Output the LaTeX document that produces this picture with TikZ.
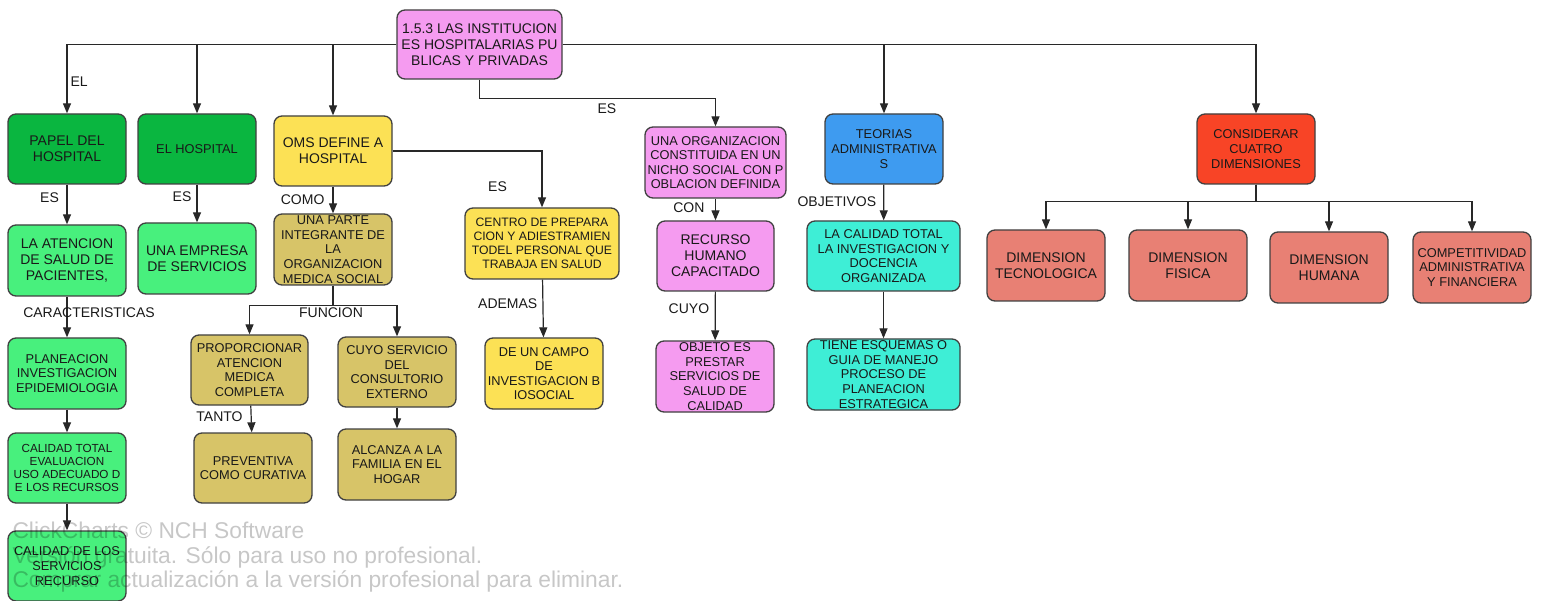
\documentclass[tikz,border=0pt]{standalone}
\usepackage{fontspec}
\setmainfont{Liberation Sans}
\usetikzlibrary{arrows.meta}
\definecolor{cpink}{RGB}{245,155,240}
\definecolor{cdgreen}{RGB}{10,182,64}
\definecolor{clgreen}{RGB}{72,240,125}
\definecolor{cyellow}{RGB}{252,225,85}
\definecolor{ckhaki}{RGB}{215,196,104}
\definecolor{cblue}{RGB}{62,155,240}
\definecolor{cturq}{RGB}{62,238,214}
\definecolor{cred}{RGB}{248,68,38}
\definecolor{csalmon}{RGB}{232,128,116}
\definecolor{cborder}{RGB}{64,64,64}
\definecolor{cline}{RGB}{40,40,40}

\begin{document}
\begin{tikzpicture}[x=1pt, y=-1pt,
  >={Triangle[length=10pt,width=8pt]},
  box/.style={draw=cborder, line width=1.3pt, rounded corners=8pt, align=center,
    minimum width=118pt, minimum height=70pt, inner xsep=1pt, inner ysep=0pt, text=black!90},
  fa/.style={font=\fontsize{14}{16}\selectfont},
  fb/.style={font=\fontsize{12.8}{14.6}\selectfont},
  fc/.style={font=\fontsize{12.2}{14}\selectfont},
  fd/.style={font=\fontsize{11.7}{13.3}\selectfont},
  lbl/.style={fa, inner sep=1.5pt, text=black!90},
  elbow/.style={to path={-| (\tikztotarget) \tikztonodes}},
  fork/.style={to path={-- ++(0,-#1) -| (\tikztotarget) \tikztonodes}},
  wmark/.style={anchor=base west, text=black, text opacity=.22, font=\fontsize{22.8}{25}\selectfont}]
  \useasboundingbox (0,0) rectangle (1541,601);

  \node[box, fa, fill=cpink, minimum width=165pt, minimum height=69pt] (root) at (479.5,44.5) {1.5.3 LAS INSTITUCION\\ES HOSPITALARIAS PU\\BLICAS Y PRIVADAS};

  \node[box, fa, fill=cdgreen] (papel) at (67,149) {PAPEL DEL\\HOSPITAL};
  \node[box, fb, fill=cdgreen] (elhosp) at (197,149) {EL HOSPITAL};
  \node[box, fa, fill=cyellow] (oms) at (333,151) {OMS DEFINE A\\HOSPITAL};
  \node[box, fb, fill=cpink, minimum width=141pt, minimum height=71pt] (org) at (715.5,162.5) {UNA ORGANIZACION\\CONSTITUIDA EN UN\\NICHO SOCIAL CON P\\OBLACION DEFINIDA};
  \node[box, fb, fill=cblue] (teorias) at (884,149) {TEORIAS\\ADMINISTRATIVA\\S};
  \node[box, fb, fill=cred] (considerar) at (1256,149) {CONSIDERAR\\CUATRO\\DIMENSIONES};

  \node[box, fa, fill=clgreen, minimum height=71pt] (atencion) at (67,260.5) {LA ATENCION\\DE SALUD DE\\PACIENTES,};
  \node[box, fa, fill=clgreen, minimum height=71pt] (empresa) at (197,258.5) {UNA EMPRESA\\DE SERVICIOS};
  \node[box, fb, fill=ckhaki, minimum height=71pt] (parte) at (333,249.5) {UNA PARTE\\INTEGRANTE DE\\LA\\ORGANIZACION\\MEDICA SOCIAL};
  \node[box, fc, fill=cyellow, minimum width=154pt, minimum height=71pt] (centro) at (542,243.5) {CENTRO DE PREPARA\\CION Y ADIESTRAMIEN\\TODEL PERSONAL QUE\\TRABAJA EN SALUD};
  \node[box, fa, fill=cpink, minimum width=117pt] (recurso) at (715.5,256) {RECURSO\\HUMANO\\CAPACITADO};
  \node[box, fb, fill=cturq, minimum width=153pt] (lacalidad) at (883.5,256) {LA CALIDAD TOTAL\\LA INVESTIGACION Y\\DOCENCIA\\ORGANIZADA};
  \node[box, fa, fill=csalmon, minimum height=71pt] (dimtec) at (1046,265.5) {DIMENSION\\TECNOLOGICA};
  \node[box, fa, fill=csalmon, minimum height=71pt] (dimfis) at (1188,265.5) {DIMENSION\\FISICA};
  \node[box, fa, fill=csalmon, minimum height=71pt] (dimhum) at (1329,267.5) {DIMENSION\\HUMANA};
  \node[box, fb, fill=csalmon, minimum height=71pt] (dimcomp) at (1472,267.5) {COMPETITIVIDAD\\ADMINISTRATIVA\\Y FINANCIERA};

  \node[box, fb, fill=clgreen, minimum height=71pt] (planeacion) at (67,373.5) {PLANEACION\\INVESTIGACION\\EPIDEMIOLOGIA};
  \node[box, fb, fill=ckhaki, minimum width=117pt] (prop) at (249.5,370) {PROPORCIONAR\\ATENCION\\MEDICA\\COMPLETA};
  \node[box, fb, fill=ckhaki] (cuyo) at (397,372) {CUYO SERVICIO\\DEL\\CONSULTORIO\\EXTERNO};
  \node[box, fb, fill=cyellow, minimum height=71pt] (campo) at (544,373.5) {DE UN CAMPO\\DE\\INVESTIGACION B\\IOSOCIAL};
  \node[box, fb, fill=cpink, minimum height=71pt] (objeto) at (715,376.5) {OBJETO ES\\PRESTAR\\SERVICIOS DE\\SALUD DE\\CALIDAD};
  \node[box, fb, fill=cturq, minimum width=153pt, minimum height=71pt] (tiene) at (883.5,374.5) {TIENE ESQUEMAS O\\GUIA DE MANEJO\\PROCESO DE\\PLANEACION\\ESTRATEGICA};

  \node[box, fd, fill=clgreen] (calidadt) at (67,468) {CALIDAD TOTAL\\EVALUACION\\USO ADECUADO D\\E LOS RECURSOS};
  \node[box, fb, fill=ckhaki] (prev) at (253,468) {PREVENTIVA\\COMO CURATIVA};
  \node[box, fb, fill=ckhaki, minimum height=71pt] (alcanza) at (397,464.5) {ALCANZA A LA\\FAMILIA EN EL\\HOGAR};

  \node[box, fb, fill=clgreen] (calidadd) at (67,566) {CALIDAD DE LOS\\SERVICIOS\\RECURSO};

  \path[->, color=cline, line width=1.2pt]
  (root.west) edge[elbow] node[lbl, pos=.77, right=1.5pt] {EL} (papel.north)
  (root.west) edge[elbow] (elhosp.north)
  (root.west) edge[elbow] (oms.north)
  (root.east) edge[elbow] (teorias.north)
  (root.east) edge[elbow] (considerar.north)
  (root.south) edge[fork=19pt] node[lbl, pos=.27, below=2.5pt] {ES} (org.north)
  (papel) edge node[lbl, pos=.34, left=6pt] {ES} (atencion)
  (elhosp) edge node[lbl, pos=.31, left=3.5pt] {ES} (empresa)
  (oms) edge node[lbl, pos=.5, left=6.5pt] {COMO} (parte)
  (oms.east) edge[elbow] node[lbl, pos=.82, left=33pt] {ES} (centro.north)
  (atencion) edge node[lbl, pos=.4, xshift=22pt] {CARACTERISTICAS} (planeacion)
  (planeacion) edge (calidadt)
  (calidadt) edge (calidadd)
  (parte.south) edge[fork=20pt] node[lbl, at start, below, xshift=-2pt] {FUNCION} (prop.north)
  (parte.south) edge[fork=20pt] (cuyo.north)
  (prop) edge node[lbl, pos=.43, left=6.5pt] {TANTO} (prev)
  (cuyo) edge (alcanza)
  (centro) edge node[lbl, pos=.41, left=3.5pt] {ADEMAS} (campo)
  (org) edge node[lbl, pos=.43, left=9pt] {CON} (recurso)
  (recurso) edge node[lbl, pos=.35, left=4pt] {CUYO} (objeto)
  (teorias) edge node[lbl, pos=.49, left=5.5pt] {OBJETIVOS} (lacalidad)
  (lacalidad) edge (tiene)
  (considerar.south) edge[fork=17pt] (dimtec.north)
  (considerar.south) edge[fork=17pt] (dimfis.north)
  (considerar.south) edge[fork=17pt] (dimhum.north)
  (considerar.south) edge[fork=17pt] (dimcomp.north)
;

  \node[wmark] (wm1) at (9,538) {ClickCharts © NCH Software};
  \node[wmark] (wm2) at (9,563) {Versión gratuita. Sólo para uso no profesional.};
  \node[wmark] (wm3) at (9,587) {Comprar actualización a la versión profesional para eliminar.};
\end{tikzpicture}
\end{document}
